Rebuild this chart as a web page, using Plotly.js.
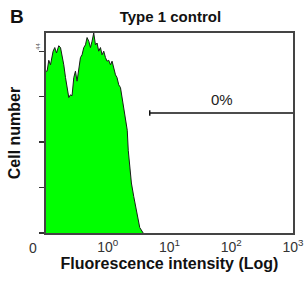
<!DOCTYPE html>
<html>
<head>
<meta charset="utf-8">
<script src="https://cdn.plot.ly/plotly-3.0.1.min.js"></script>
<style>html,body{margin:0;padding:0;background:#fff}#c{width:307px;height:281px}</style>
</head>
<body>
<div id="c"></div>
<script>
// Histogram envelope: log10 fluorescence vs cell count
const logIntensity = [-1.000,-0.982,-0.955,-0.927,-0.885,-0.858,-0.830,-0.793,-0.765,-0.739,-0.712,-0.684,-0.659,-0.631,-0.604,-0.578,-0.550,-0.523,-0.497,-0.469,-0.442,-0.416,-0.388,-0.361,-0.335,-0.307,-0.280,-0.254,-0.227,-0.199,-0.173,-0.146,-0.118,-0.092,-0.065,-0.037,-0.011,0.016,0.044,0.070,0.097,0.125,0.150,0.178,0.206,0.231,0.259,0.283,0.316,0.332,0.356,0.383,0.421,0.464,0.518,0.574];
const cellCount = [178,178,190,185,200,204,198,206,204,196,185,171,160,149,152,151,171,178,167,178,193,196,204,207,215,211,204,211,220,207,209,200,204,196,200,193,189,190,185,189,182,174,171,163,160,149,141,128,113,91,73,55,40,25,6,0];
const xTickVals = [0,1,2,3];
const xTickText = ['10<sup>0</sup>','10<sup>1</sup>','10<sup>2</sup>','10<sup>3</sup>'];
const yTickVals = [0,50,100,150,200];
const gateX = [0.68, 3];
const gateY = 132;
const gateLabel = '0%';

const traces = [
  {x: logIntensity, y: cellCount, type:'scatter', mode:'lines', fill:'tozeroy',
   fillcolor:'#00ff00', line:{color:'#1a1a1a', width:1, shape:'linear'}, hoverinfo:'skip'},
  {x: gateX, y: [gateY, gateY], type:'scatter', mode:'lines',
   line:{color:'#111', width:1.5}, hoverinfo:'skip'},
  {x: [gateX[0], gateX[0]], y: [gateY-3, gateY+3], type:'scatter', mode:'lines',
   line:{color:'#111', width:1.5}, hoverinfo:'skip'}
];

const layout = {
  width:307, height:281,
  margin:{l:46, r:14, t:33, b:48},
  paper_bgcolor:'#fff', plot_bgcolor:'#fff',
  showlegend:false,
  font:{family:'Liberation Sans, Arial, sans-serif', color:'#111'},
  title:{text:'<b>Type 1 control</b>', font:{size:15, color:'#111'}, x:0.555, xanchor:'center', y:0.94, yanchor:'middle'},
  xaxis:{range:[-1,3], tickvals:xTickVals, ticktext:xTickText, ticks:'', showgrid:false, zeroline:false,
    showline:true, mirror:true, linecolor:'#444', linewidth:2,
    tickfont:{size:14, color:'#333'},
    title:{text:'<b>Fluorescence intensity (Log)</b>', font:{size:16, color:'#111'}, standoff:3}},
  yaxis:{range:[0,220], tickvals:yTickVals, showticklabels:false, ticks:'outside', ticklen:5, tickcolor:'#333', tickwidth:1.2,
    showgrid:false, zeroline:false, showline:true, mirror:true, linecolor:'#444', linewidth:2,
    title:{text:'<b>Cell number</b>', font:{size:16, color:'#111'}, standoff:14}},
  annotations:[
    {text:'<b>B</b>', xref:'paper', yref:'paper', x:-0.155, y:1.085, xanchor:'left', yanchor:'middle', showarrow:false, font:{size:19, color:'#111'}},
    {text:'0', xref:'paper', yref:'paper', x:-0.053, y:-0.025, xanchor:'center', yanchor:'top', showarrow:false, font:{size:14, color:'#333'}},
    {text:gateLabel, xref:'x', yref:'y', x:1.85, y:gateY+3, xanchor:'center', yanchor:'bottom', showarrow:false, font:{size:15, color:'#222'}},
    {text:'44', xref:'paper', yref:'y', x:-0.015, y:205, xanchor:'right', yanchor:'middle', textangle:-90, showarrow:false, font:{size:6, color:'#555'}}
  ]
};
Plotly.newPlot('c', traces, layout, {staticPlot:true, displayModeBar:false});
</script>
</body>
</html>
